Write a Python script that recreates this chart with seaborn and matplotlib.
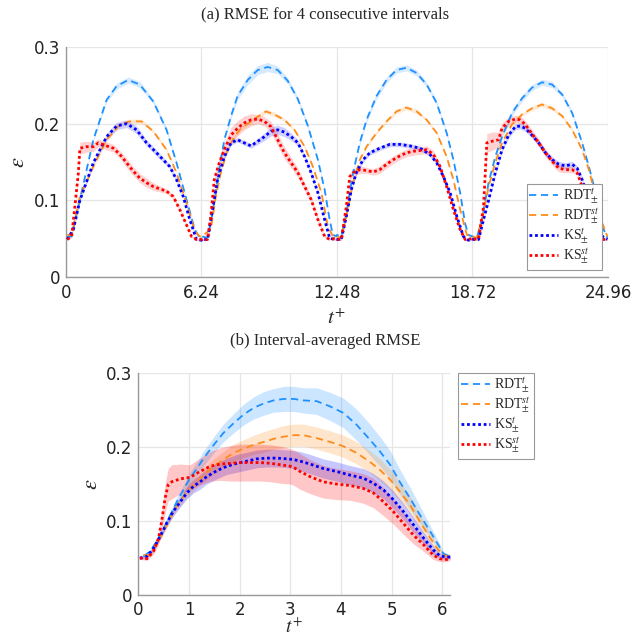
import numpy as np
import pandas as pd
import seaborn as sns
import matplotlib
matplotlib.use("Agg")
import matplotlib.pyplot as plt

# ---------------- data ----------------
PERIOD = 6.24
top_xticks = [0, 6.24, 12.48, 18.72, 24.96]
top_xticklabels = ["0", "6.24", "12.48", "18.72", "24.96"]
yticks = [0, 0.1, 0.2, 0.3]
yticklabels = ["0", "0.1", "0.2", "0.3"]
bot_xticks = [0, 1, 2, 3, 4, 5, 6]
bot_xticklabels = ["0", "1", "2", "3", "4", "5", "6"]

labels = [r"RDT$^{t}_{\pm}$", r"RDT$^{st}_{\pm}$", r"KS$^{t}_{\pm}$", r"KS$^{st}_{\pm}$"]

# --- top panel: per-interval local time, mean, half-width ---
rdt_t_t = [
    [0.06, 0.26, 0.64, 1.26, 1.87, 2.33, 2.87, 3.40, 4.02, 4.63, 5.09, 5.55, 5.93, 6.16],
    [0, 0.28, 0.51, 0.74, 1.05, 1.36, 1.66, 2.13, 2.59, 3.05, 3.51, 3.97, 4.44, 4.90, 5.36, 5.67, 5.90, 6.05, 6.24],
    [0, 0.20, 0.43, 0.74, 1.05, 1.36, 1.82, 2.28, 2.74, 3.20, 3.67, 4.13, 4.59, 5.05, 5.36, 5.67, 5.90, 6.05, 6.24],
    [0, 0.20, 0.43, 0.74, 1.05, 1.36, 1.82, 2.28, 2.74, 3.20, 3.67, 4.13, 4.59, 5.05, 5.36, 5.67, 5.98, 6.21],
]
rdt_t_v = [
    [0.053, 0.053, 0.101, 0.179, 0.231, 0.249, 0.257, 0.251, 0.229, 0.192, 0.149, 0.101, 0.062, 0.051],
    [0.053, 0.051, 0.083, 0.127, 0.179, 0.210, 0.236, 0.257, 0.270, 0.274, 0.270, 0.256, 0.232, 0.197, 0.153, 0.114, 0.075, 0.055, 0.053],
    [0.055, 0.053, 0.083, 0.136, 0.175, 0.205, 0.236, 0.257, 0.270, 0.273, 0.266, 0.251, 0.227, 0.188, 0.153, 0.110, 0.070, 0.055, 0.053],
    [0.053, 0.051, 0.075, 0.123, 0.157, 0.183, 0.214, 0.233, 0.247, 0.254, 0.251, 0.238, 0.214, 0.175, 0.144, 0.110, 0.066, 0.051],
]
rdt_t_s = [
    [0.001, 0.001, 0.002, 0.002, 0.003, 0.004, 0.004, 0.004, 0.003, 0.003, 0.002, 0.002, 0.001, 0.001],
    [0.001, 0.001, 0.002, 0.002, 0.003, 0.004, 0.005, 0.006, 0.006, 0.006, 0.005, 0.004, 0.003, 0.003, 0.002, 0.002, 0.001, 0.001, 0.001],
    [0.001, 0.001, 0.002, 0.002, 0.003, 0.003, 0.004, 0.004, 0.004, 0.004, 0.004, 0.003, 0.003, 0.002, 0.002, 0.002, 0.001, 0.001, 0.001],
    [0.001, 0.001, 0.002, 0.002, 0.003, 0.003, 0.004, 0.004, 0.004, 0.004, 0.004, 0.003, 0.003, 0.002, 0.002, 0.002, 0.001, 0.001],
]

rdt_st_t = [
    [0.06, 0.26, 0.64, 1.26, 1.87, 2.48, 2.94, 3.48, 4.02, 4.63, 5.09, 5.55, 5.93, 6.16],
    [0, 0.43, 0.66, 0.89, 1.20, 1.51, 1.82, 2.28, 2.74, 2.97, 3.36, 3.82, 4.28, 4.75, 5.13, 5.52, 5.82, 6.05, 6.24],
    [0, 0.20, 0.43, 0.74, 1.05, 1.36, 1.82, 2.28, 2.74, 3.20, 3.67, 4.13, 4.59, 5.05, 5.36, 5.67, 5.98, 6.24],
    [0, 0.20, 0.51, 0.74, 1.05, 1.36, 1.82, 2.28, 2.74, 3.20, 3.67, 4.13, 4.59, 5.05, 5.36, 5.67, 5.98, 6.21],
]
rdt_st_v = [
    [0.055, 0.055, 0.105, 0.144, 0.179, 0.199, 0.203, 0.203, 0.190, 0.166, 0.136, 0.097, 0.060, 0.053],
    [0.053, 0.062, 0.105, 0.136, 0.166, 0.183, 0.194, 0.203, 0.212, 0.216, 0.212, 0.205, 0.192, 0.170, 0.144, 0.110, 0.066, 0.053, 0.053],
    [0.053, 0.051, 0.079, 0.123, 0.153, 0.170, 0.188, 0.203, 0.216, 0.221, 0.216, 0.205, 0.188, 0.157, 0.127, 0.088, 0.055, 0.053],
    [0.053, 0.051, 0.083, 0.118, 0.149, 0.175, 0.199, 0.212, 0.220, 0.225, 0.220, 0.210, 0.192, 0.166, 0.140, 0.105, 0.070, 0.053],
]
rdt_st_s = [
    [0.001, 0.001, 0.002, 0.002, 0.002, 0.002, 0.003, 0.003, 0.002, 0.002, 0.002, 0.002, 0.001, 0.001],
    [0.001, 0.001, 0.002, 0.002, 0.002, 0.002, 0.002, 0.003, 0.003, 0.003, 0.003, 0.002, 0.002, 0.002, 0.002, 0.002, 0.001, 0.001, 0.001],
    [0.001, 0.001, 0.002, 0.002, 0.002, 0.002, 0.002, 0.002, 0.003, 0.003, 0.003, 0.002, 0.002, 0.002, 0.002, 0.002, 0.001, 0.001],
    [0.001, 0.001, 0.002, 0.002, 0.002, 0.002, 0.002, 0.002, 0.003, 0.003, 0.003, 0.002, 0.002, 0.002, 0.002, 0.002, 0.001, 0.001],
]

ks_t_t = [
    [0.06, 0.34, 0.64, 1.26, 1.87, 2.33, 2.79, 3.25, 3.71, 4.17, 4.78, 5.09, 5.40, 5.70, 6.01, 6.24],
    [0, 0.28, 0.51, 0.74, 1.05, 1.36, 1.66, 1.97, 2.28, 2.59, 2.90, 3.20, 3.51, 3.82, 4.13, 4.44, 4.75, 5.05, 5.36, 5.67, 5.90, 6.13, 6.24],
    [0, 0.20, 0.43, 0.66, 0.89, 1.20, 1.51, 1.97, 2.43, 2.90, 3.36, 3.82, 4.28, 4.59, 4.90, 5.21, 5.52, 5.82, 6.05, 6.24],
    [0, 0.28, 0.51, 0.74, 1.05, 1.36, 1.66, 1.97, 2.20, 2.43, 2.74, 3.05, 3.36, 3.67, 3.97, 4.28, 4.59, 4.82, 5.05, 5.36, 5.67, 5.98, 6.21],
]
ks_t_v = [
    [0.049, 0.062, 0.100, 0.149, 0.183, 0.197, 0.200, 0.192, 0.175, 0.162, 0.144, 0.127, 0.105, 0.075, 0.049, 0.048],
    [0.049, 0.049, 0.088, 0.127, 0.157, 0.175, 0.179, 0.175, 0.171, 0.177, 0.183, 0.190, 0.192, 0.189, 0.183, 0.175, 0.157, 0.136, 0.110, 0.075, 0.051, 0.049, 0.049],
    [0.049, 0.049, 0.079, 0.114, 0.136, 0.153, 0.162, 0.168, 0.173, 0.173, 0.171, 0.168, 0.160, 0.149, 0.131, 0.110, 0.079, 0.053, 0.048, 0.049],
    [0.049, 0.049, 0.075, 0.100, 0.136, 0.166, 0.185, 0.196, 0.197, 0.194, 0.185, 0.175, 0.162, 0.153, 0.147, 0.145, 0.147, 0.142, 0.127, 0.101, 0.075, 0.053, 0.049],
]
ks_t_s = [
    [0.001, 0.001, 0.002, 0.003, 0.004, 0.005, 0.005, 0.005, 0.004, 0.004, 0.003, 0.003, 0.002, 0.002, 0.001, 0.001],
    [0.001, 0.001, 0.002, 0.002, 0.003, 0.003, 0.003, 0.003, 0.003, 0.004, 0.005, 0.006, 0.006, 0.006, 0.005, 0.004, 0.003, 0.003, 0.002, 0.002, 0.001, 0.001, 0.001],
    [0.001, 0.001, 0.002, 0.002, 0.003, 0.003, 0.003, 0.003, 0.003, 0.003, 0.003, 0.003, 0.003, 0.003, 0.002, 0.002, 0.002, 0.001, 0.001, 0.001],
    [0.001, 0.001, 0.002, 0.002, 0.003, 0.003, 0.004, 0.004, 0.004, 0.004, 0.004, 0.004, 0.004, 0.004, 0.004, 0.004, 0.004, 0.003, 0.003, 0.002, 0.002, 0.001, 0.001],
]

ks_st_t = [
    [0.06, 0.26, 0.41, 0.57, 0.64, 0.95, 1.26, 1.49, 1.87, 2.18, 2.48, 2.79, 3.10, 3.40, 3.71, 4.02, 4.32, 4.63, 4.94, 5.24, 5.55, 5.78, 6.01, 6.24],
    [0, 0.28, 0.43, 0.59, 0.82, 1.05, 1.36, 1.66, 1.97, 2.28, 2.59, 2.90, 3.20, 3.51, 3.82, 4.13, 4.44, 4.75, 5.05, 5.36, 5.67, 5.90, 6.13, 6.24],
    [0, 0.20, 0.43, 0.59, 0.74, 1.05, 1.36, 1.66, 1.97, 2.28, 2.59, 2.90, 3.20, 3.51, 3.82, 4.13, 4.44, 4.75, 5.05, 5.36, 5.67, 5.90, 6.24],
    [0, 0.28, 0.51, 0.66, 0.89, 1.20, 1.36, 1.66, 1.97, 2.20, 2.43, 2.74, 3.05, 3.36, 3.67, 3.97, 4.28, 4.59, 4.82, 5.05, 5.36, 5.67, 5.98, 6.21],
]
ks_st_v = [
    [0.049, 0.053, 0.092, 0.136, 0.168, 0.170, 0.170, 0.175, 0.171, 0.168, 0.160, 0.149, 0.138, 0.129, 0.123, 0.118, 0.115, 0.112, 0.105, 0.088, 0.068, 0.053, 0.049, 0.049],
    [0.049, 0.049, 0.079, 0.127, 0.149, 0.166, 0.185, 0.194, 0.201, 0.205, 0.206, 0.203, 0.196, 0.179, 0.162, 0.149, 0.136, 0.118, 0.101, 0.075, 0.053, 0.049, 0.050, 0.049],
    [0.049, 0.049, 0.092, 0.131, 0.136, 0.140, 0.139, 0.137, 0.140, 0.147, 0.153, 0.158, 0.162, 0.164, 0.165, 0.166, 0.160, 0.144, 0.118, 0.088, 0.062, 0.049, 0.050],
    [0.049, 0.050, 0.092, 0.175, 0.177, 0.179, 0.194, 0.203, 0.206, 0.205, 0.199, 0.187, 0.175, 0.162, 0.151, 0.142, 0.140, 0.140, 0.136, 0.118, 0.092, 0.066, 0.049, 0.049],
]
ks_st_s = [
    [0.001, 0.001, 0.003, 0.006, 0.008, 0.007, 0.006, 0.005, 0.005, 0.005, 0.005, 0.006, 0.006, 0.006, 0.006, 0.005, 0.004, 0.003, 0.003, 0.002, 0.002, 0.001, 0.001, 0.001],
    [0.001, 0.001, 0.003, 0.006, 0.008, 0.009, 0.010, 0.010, 0.009, 0.008, 0.006, 0.006, 0.007, 0.008, 0.008, 0.007, 0.006, 0.005, 0.004, 0.003, 0.002, 0.001, 0.001, 0.001],
    [0.001, 0.001, 0.003, 0.005, 0.005, 0.005, 0.004, 0.004, 0.005, 0.005, 0.005, 0.005, 0.005, 0.005, 0.005, 0.005, 0.005, 0.004, 0.003, 0.002, 0.002, 0.001, 0.001],
    [0.001, 0.001, 0.005, 0.012, 0.012, 0.010, 0.007, 0.006, 0.005, 0.005, 0.005, 0.005, 0.005, 0.005, 0.005, 0.005, 0.004, 0.004, 0.003, 0.003, 0.002, 0.002, 0.001, 0.001],
]

# --- bottom panel: interval-averaged ---
avg_rdt_t_t = [0.10, 0.23, 0.36, 0.50, 0.63, 0.76, 0.89, 1.02, 1.16, 1.29, 1.49, 1.68, 1.88, 2.08, 2.28, 2.48, 2.67,
               2.87, 3.07, 3.26, 3.52, 3.78, 4.05, 4.31, 4.57, 4.77, 4.97, 5.16, 5.36, 5.56, 5.76, 5.92, 6.02, 6.15]
avg_rdt_t_v = [0.052, 0.059, 0.072, 0.090, 0.108, 0.126, 0.142, 0.158, 0.171, 0.185, 0.203, 0.219, 0.232, 0.244, 0.253,
               0.259, 0.263, 0.265, 0.265, 0.263, 0.262, 0.255, 0.246, 0.230, 0.210, 0.194, 0.176, 0.153, 0.131, 0.108,
               0.086, 0.068, 0.056, 0.052]
avg_rdt_t_s = [0.002, 0.002, 0.003, 0.004, 0.005, 0.006, 0.007, 0.008, 0.009, 0.010, 0.011, 0.012, 0.013, 0.014, 0.015,
               0.016, 0.016, 0.017, 0.017, 0.017, 0.018, 0.019, 0.020, 0.021, 0.021, 0.020, 0.019, 0.017, 0.015, 0.012,
               0.008, 0.005, 0.003, 0.002]

avg_rdt_st_t = avg_rdt_t_t
avg_rdt_st_v = [0.054, 0.054, 0.068, 0.086, 0.104, 0.120, 0.133, 0.144, 0.153, 0.162, 0.174, 0.183, 0.192, 0.198, 0.203,
                0.207, 0.211, 0.214, 0.216, 0.216, 0.212, 0.207, 0.201, 0.192, 0.180, 0.169, 0.156, 0.140, 0.122, 0.099,
                0.077, 0.061, 0.054, 0.052]
avg_rdt_st_s = [0.002, 0.002, 0.003, 0.004, 0.005, 0.006, 0.007, 0.008, 0.008, 0.009, 0.010, 0.011, 0.012, 0.012, 0.013,
                0.014, 0.014, 0.015, 0.015, 0.015, 0.015, 0.015, 0.015, 0.015, 0.015, 0.015, 0.014, 0.013, 0.012, 0.010,
                0.007, 0.005, 0.003, 0.002]

avg_ks_t_t = [0.03, 0.17, 0.30, 0.43, 0.56, 0.69, 0.83, 0.96, 1.09, 1.22, 1.35, 1.55, 1.75, 1.95, 2.15, 2.34, 2.54, 2.74,
              2.94, 3.07, 3.19, 3.39, 3.65, 3.91, 4.18, 4.44, 4.64, 4.84, 5.03, 5.23, 5.43, 5.63, 5.82, 5.95, 6.09, 6.18]
avg_ks_t_v = [0.050, 0.052, 0.063, 0.079, 0.097, 0.113, 0.126, 0.138, 0.147, 0.153, 0.160, 0.168, 0.174, 0.178, 0.181,
              0.184, 0.185, 0.185, 0.184, 0.183, 0.181, 0.177, 0.171, 0.167, 0.162, 0.158, 0.151, 0.142, 0.129, 0.113,
              0.095, 0.077, 0.061, 0.053, 0.051, 0.052]
avg_ks_t_s = [0.002, 0.002, 0.003, 0.004, 0.005, 0.006, 0.007, 0.008, 0.009, 0.010, 0.010, 0.011, 0.011, 0.012, 0.012,
              0.012, 0.012, 0.012, 0.012, 0.012, 0.013, 0.013, 0.013, 0.013, 0.013, 0.013, 0.013, 0.012, 0.012, 0.011,
              0.010, 0.008, 0.006, 0.004, 0.003, 0.002]

avg_ks_st_t = [0.03, 0.17, 0.30, 0.40, 0.46, 0.53, 0.59, 0.66, 0.83, 1.02, 1.22, 1.42, 1.62, 1.82, 2.01, 2.21, 2.41, 2.61,
               2.81, 3.00, 3.10, 3.19, 3.39, 3.65, 3.91, 4.18, 4.44, 4.64, 4.84, 5.03, 5.23, 5.43, 5.63, 5.82, 5.95, 6.09, 6.18]
avg_ks_st_v = [0.050, 0.049, 0.059, 0.077, 0.099, 0.131, 0.149, 0.153, 0.157, 0.159, 0.167, 0.174, 0.177, 0.178, 0.179,
               0.179, 0.179, 0.178, 0.176, 0.174, 0.171, 0.167, 0.160, 0.153, 0.150, 0.148, 0.144, 0.138, 0.126, 0.113,
               0.097, 0.081, 0.068, 0.054, 0.049, 0.048, 0.050]
avg_ks_st_s = [0.002, 0.002, 0.004, 0.008, 0.014, 0.020, 0.022, 0.023, 0.020, 0.017, 0.018, 0.020, 0.022, 0.024, 0.025,
               0.025, 0.025, 0.025, 0.025, 0.024, 0.024, 0.024, 0.023, 0.022, 0.021, 0.020, 0.020, 0.020, 0.019, 0.017,
               0.015, 0.012, 0.009, 0.006, 0.004, 0.003, 0.002]

# ---------------- style ----------------
colors = ["#1E90FF", "#FF8C1A", "#0000FF", "#FF0000"]
styles = [(0, (4.0, 2.6)), (0, (4.0, 2.6)), (0, (1.0, 1.0)), (0, (1.0, 1.0))]
widths = [1.3, 1.3, 2.0, 2.0]

sns.set_theme(style="whitegrid")
plt.rcParams["font.family"] = ["DejaVu Sans"]
plt.rcParams["mathtext.fontset"] = "stix"
GRID = "#e6e6e6"
SPINE = "#9a9a9a"


def flatten(tl, vl, sl):
    x, y, s = [], [], []
    for k, (t, v, sd) in enumerate(zip(tl, vl, sl)):
        x += [ti + k * PERIOD for ti in t]
        y += list(v)
        s += list(sd)
    return np.array(x), np.array(y), np.array(s)


top_series = [flatten(rdt_t_t, rdt_t_v, rdt_t_s), flatten(rdt_st_t, rdt_st_v, rdt_st_s),
              flatten(ks_t_t, ks_t_v, ks_t_s), flatten(ks_st_t, ks_st_v, ks_st_s)]
bot_series = [(np.array(avg_rdt_t_t), np.array(avg_rdt_t_v), np.array(avg_rdt_t_s)),
              (np.array(avg_rdt_st_t), np.array(avg_rdt_st_v), np.array(avg_rdt_st_s)),
              (np.array(avg_ks_t_t), np.array(avg_ks_t_v), np.array(avg_ks_t_s)),
              (np.array(avg_ks_st_t), np.array(avg_ks_st_v), np.array(avg_ks_st_s))]

fig = plt.figure(figsize=(6.32, 6.37), dpi=100)
ax1 = fig.add_axes([0.1044, 0.5651, 0.8576, 0.3611])
ax2 = fig.add_axes([0.2188, 0.0659, 0.4939, 0.3485])


def draw(ax, series, band_alpha):
    handles = []
    for (x, y, s), c in zip(series, colors):
        ax.fill_between(x, y - s, y + s, color=c, alpha=band_alpha, linewidth=0, zorder=1)
    for (x, y, s), c, ls, lw, lab in zip(series, colors, styles, widths, labels):
        df = pd.DataFrame({"t": x, "e": y})
        sns.lineplot(data=df, x="t", y="e", ax=ax, color=c, linestyle=ls, linewidth=lw,
                     sort=False, estimator=None, legend=False, zorder=3)
        ax.lines[-1].set_label(lab)
        handles.append(ax.lines[-1])
    return handles


def style_axes(ax, xlab_y, xpad, xlab_size):
    ax.set_facecolor("white")
    ax.grid(True, color=GRID, linewidth=0.9)
    ax.set_axisbelow(True)
    for side in ["top", "right"]:
        ax.spines[side].set_visible(False)
    for side in ["left", "bottom"]:
        ax.spines[side].set_visible(True)
        ax.spines[side].set_color(SPINE)
        ax.spines[side].set_linewidth(1.0)
    ax.tick_params(axis="both", direction="in", length=4, width=0.8, color=SPINE,
                   labelsize=12, labelcolor="#222222")
    ax.tick_params(axis="y", pad=4)
    ax.tick_params(axis="x", pad=xpad)
    ax.set_xlabel(r"$t^{+}$", fontsize=xlab_size, va="center")
    ax.xaxis.set_label_coords(0.5, xlab_y)
    ax.set_ylabel(r"$\epsilon$", fontsize=16, labelpad=4)


h1 = draw(ax1, top_series, 0.18)
h2 = draw(ax2, bot_series, 0.22)

style_axes(ax1, -0.178, 5, 15)
style_axes(ax2, -0.146, 4, 14)
for ax in (ax1, ax2):
    ax.set_ylim(0, 0.3)
    ax.set_yticks(yticks)
    ax.set_yticklabels(yticklabels)

ax1.set_xlim(0, 24.96)
ax1.set_xticks(top_xticks)
ax1.set_xticklabels(top_xticklabels)
ax2.set_xlim(0, 6.16)
ax2.set_xticks(bot_xticks)
ax2.set_xticklabels(bot_xticklabels)

leg_kw = dict(prop={"family": "Liberation Serif", "size": 10}, frameon=True, fancybox=False,
              edgecolor="#999999", framealpha=1, handlelength=2.1, handletextpad=0.3,
              labelspacing=0.0, borderpad=0.2, borderaxespad=0)
l1 = ax1.legend(handles=h1, loc="lower right", bbox_to_anchor=(0.989, 0.03), **leg_kw)
l2 = ax2.legend(handles=h2, loc="upper left", bbox_to_anchor=(1.025, 1.0), **leg_kw)
for l in (l1, l2):
    l.get_frame().set_linewidth(0.8)
    l.set_zorder(5)

fig.text(325 / 632, 1 - 14 / 637, "(a) RMSE for 4 consecutive intervals", ha="center", va="center",
         family="Liberation Serif", fontsize=12)
fig.text(325 / 632, 1 - 341 / 637, "(b) Interval-averaged RMSE", ha="center", va="center",
         family="Liberation Serif", fontsize=12)

fig.savefig("out.png", dpi=100, facecolor="white")
